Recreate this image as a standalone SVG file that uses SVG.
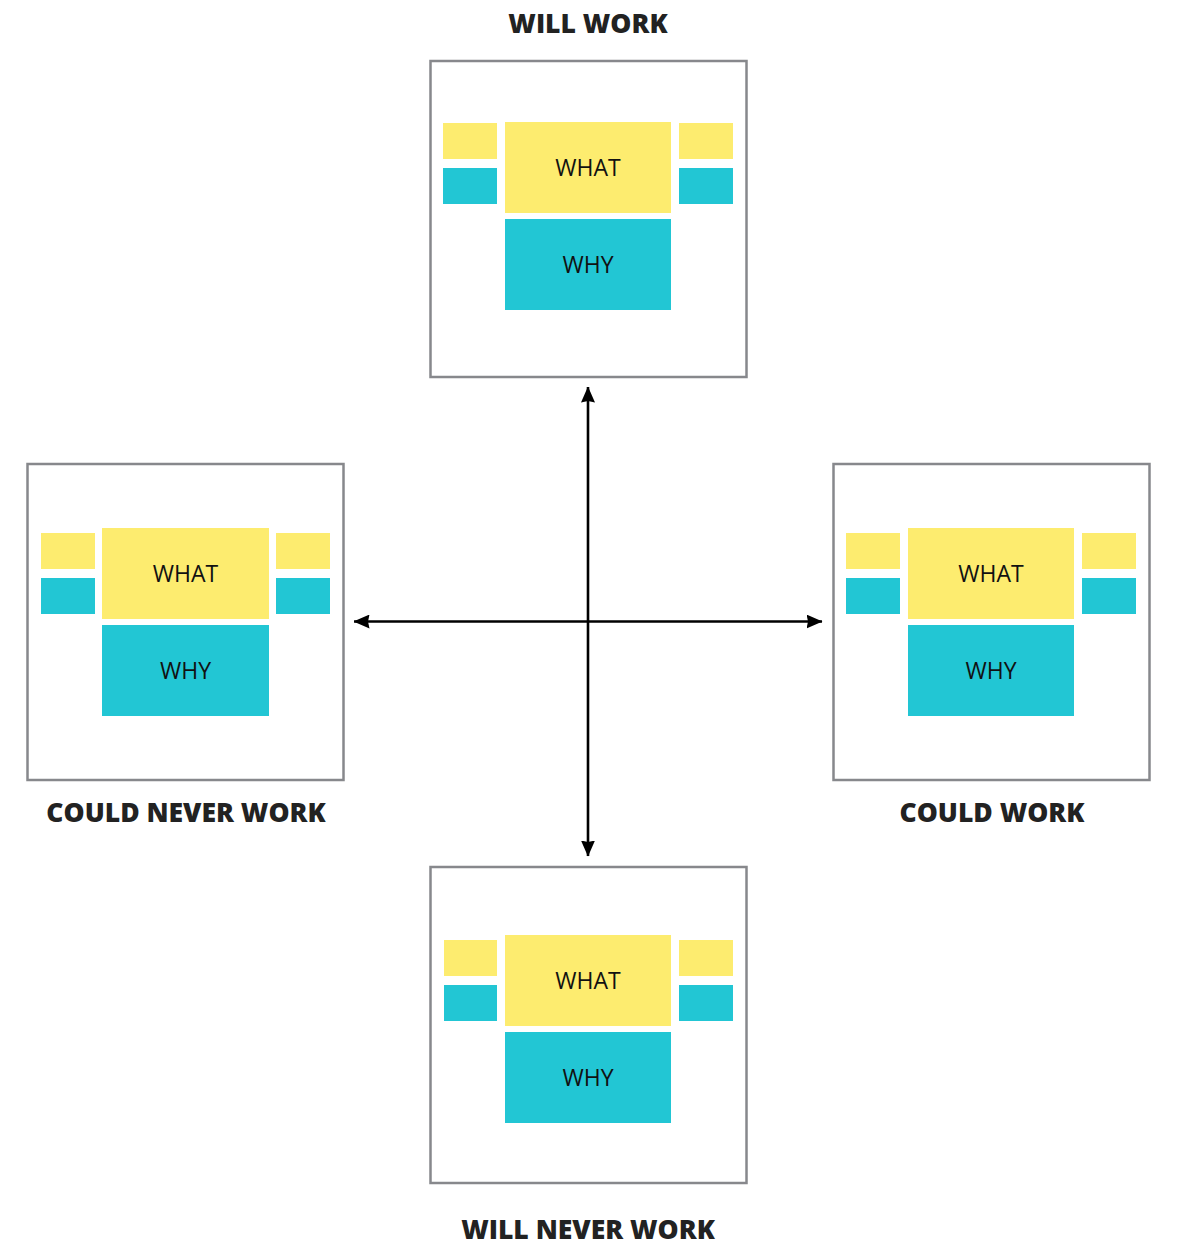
<svg xmlns="http://www.w3.org/2000/svg" width="1178" height="1258" viewBox="0 0 1178 1258">
<style>
.frame{fill:#fff;stroke:#87888c;stroke-width:2.5}
.y{fill:#fdec6f}
.t{fill:#22c6d4}
.in{font-family:"Open Sans","Liberation Sans",sans-serif;font-size:23px;fill:#111;text-anchor:middle}
.lbl{font-family:"Open Sans","Liberation Sans",sans-serif;font-size:26.5px;font-weight:800;fill:#222;text-anchor:middle}
.ax{stroke:#000;stroke-width:2.6;fill:none}
</style>
<defs>
<marker id="ah" viewBox="0 0 16 14" refX="15.5" refY="7" markerWidth="16" markerHeight="14" markerUnits="userSpaceOnUse" orient="auto-start-reverse">
<path d="M0,0 L16,7 L0,14 L1.5,7 Z" fill="#000"/>
</marker>
<g id="card">
<rect class="y" x="13" y="62" width="54" height="36"/>
<rect class="t" x="13" y="107" width="54" height="36"/>
<rect class="y" x="75" y="61" width="166" height="91"/>
<rect class="t" x="75" y="158" width="166" height="91"/>
<rect class="y" x="249" y="62" width="54" height="36"/>
<rect class="t" x="249" y="107" width="54" height="36"/>
</g>
</defs>
<g id="connectors">
<line class="ax" x1="588" y1="387" x2="588" y2="856" marker-start="url(#ah)" marker-end="url(#ah)"/>
<line class="ax" x1="354" y1="621.5" x2="822" y2="621.5" marker-start="url(#ah)" marker-end="url(#ah)"/>
</g>
<g id="will-work">
<rect class="frame" x="430.5" y="61" width="316" height="316"/>
<use href="#card" x="430" y="61"/>
<text class="in" x="588" y="176">WHAT</text>
<text class="in" x="588" y="273">WHY</text>
<text class="lbl" x="588" y="33">WILL WORK</text>
</g>
<g id="could-never-work">
<rect class="frame" x="27.5" y="464" width="316" height="316"/>
<rect class="y" x="41" y="533" width="54" height="36"/>
<rect class="t" x="41" y="578" width="54" height="36"/>
<rect class="y" x="102" y="528" width="167" height="91"/>
<rect class="t" x="102" y="625" width="167" height="91"/>
<rect class="y" x="276" y="533" width="54" height="36"/>
<rect class="t" x="276" y="578" width="54" height="36"/>
<text class="in" x="185.5" y="582">WHAT</text>
<text class="in" x="185.5" y="679">WHY</text>
<text class="lbl" x="186" y="822">COULD NEVER WORK</text>
</g>
<g id="could-work">
<rect class="frame" x="833.5" y="464" width="316" height="316"/>
<rect class="y" x="846" y="533" width="54" height="36"/>
<rect class="t" x="846" y="578" width="54" height="36"/>
<rect class="y" x="908" y="528" width="166" height="91"/>
<rect class="t" x="908" y="625" width="166" height="91"/>
<rect class="y" x="1082" y="533" width="54" height="36"/>
<rect class="t" x="1082" y="578" width="54" height="36"/>
<text class="in" x="991" y="582">WHAT</text>
<text class="in" x="991" y="679">WHY</text>
<text class="lbl" x="992" y="822">COULD WORK</text>
</g>
<g id="will-never-work">
<rect class="frame" x="430.5" y="867" width="316" height="316"/>
<rect class="y" x="444" y="940" width="53" height="36"/>
<rect class="t" x="444" y="985" width="53" height="36"/>
<rect class="y" x="505" y="935" width="166" height="91"/>
<rect class="t" x="505" y="1032" width="166" height="91"/>
<rect class="y" x="679" y="940" width="54" height="36"/>
<rect class="t" x="679" y="985" width="54" height="36"/>
<text class="in" x="588" y="989">WHAT</text>
<text class="in" x="588" y="1086">WHY</text>
<text class="lbl" x="588" y="1239">WILL NEVER WORK</text>
</g>
</svg>
